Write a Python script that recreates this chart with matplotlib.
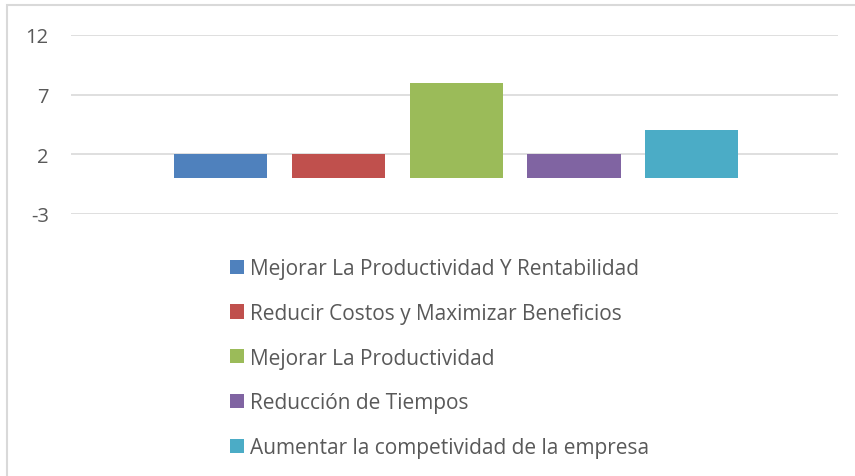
import matplotlib.pyplot as plt
from matplotlib.patches import Rectangle

# datos
categorias = ['Mejorar La Productividad Y Rentabilidad',
              'Reducir Costos y Maximizar Beneficios',
              'Mejorar La Productividad',
              'Reducción de Tiempos',
              'Aumentar la competividad de la empresa']
valores = [2, 2, 8, 2, 4]
colores = ['#4F81BD', '#C0504D', '#9BBB59', '#8064A2', '#4BACC6']
yticks = [-3, 2, 7, 12]

plt.rcParams['font.family'] = ['Open Sans', 'DejaVu Sans']
plt.rcParams['axes.unicode_minus'] = False

fig = plt.figure(figsize=(8.55, 4.77), dpi=100)
W, H = 855, 477

# borde del gráfico (recortado a la derecha y abajo)
fig.patches.append(Rectangle((7 / W, -0.1), 1.2, 1 - 6 / H + 0.1,
                             transform=fig.transFigure, fill=False,
                             edgecolor='#d9d9d9', lw=1.5))

ax = fig.add_axes([71 / W, 1 - 215 / H, (838 - 71) / W, (215 - 36) / H])
x = list(range(len(valores)))
barras = ax.bar(x, valores, width=0.79, color=colores, zorder=3)

ax.set_xlim(-1.267, 5.24)
ax.set_ylim(-3, 12)
ax.set_yticks(yticks)
ax.set_xticks([])
ax.grid(axis='y', color='#d9d9d9', lw=1.2, zorder=0)
for s in ax.spines.values():
    s.set_visible(False)
ax.tick_params(axis='y', length=0, pad=16, labelsize=14.5, labelcolor='#595959')

fig.legend(barras, categorias, loc='upper left',
           bbox_to_anchor=(230 / W, 1 - 259 / H), frameon=False,
           fontsize=15, labelcolor='#595959', handlelength=0.68,
           handleheight=0.68, handletextpad=0.3, labelspacing=1.14,
           borderpad=0, borderaxespad=0)

fig.savefig('out.png', dpi=100)
